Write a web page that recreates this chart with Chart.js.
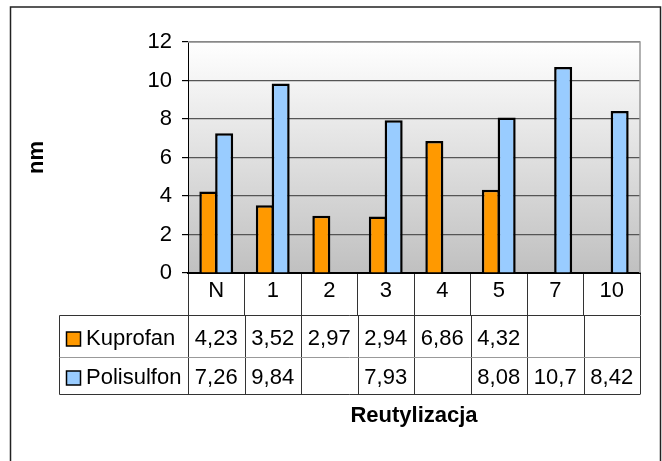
<!DOCTYPE html>
<html>
<head>
<meta charset="utf-8">
<script src="https://cdn.jsdelivr.net/npm/chart.js@4.4.0/dist/chart.umd.min.js"></script>
<style>
  body { margin: 0; background: #fff; }
  canvas { display: block; }
</style>
</head>
<body>
<canvas id="myChart" width="662" height="461"></canvas>
<script>
const categories = ['N', '1', '2', '3', '4', '5', '7', '10']
const kuprofan = [4.23, 3.52, 2.97, 2.94, 6.86, 4.32, null, null]
const polisulfon = [7.26, 9.84, null, 7.93, null, 8.08, 10.7, 8.42]
const seriesNames = ['Kuprofan', 'Polisulfon']
const seriesColors = ['#ff9900', '#99ccff']

const FONT = "'Liberation Sans', Arial, sans-serif"
const HEADER_ROW = 42

// white page, outer frame and the grey gradient behind the bars
const backdrop = {
  id: 'backdrop',
  beforeDraw(chart) {
    const { ctx, chartArea: a } = chart
    ctx.save()
    ctx.fillStyle = '#fff'
    ctx.fillRect(0, 0, chart.width, chart.height)
    ctx.strokeStyle = '#222'
    ctx.lineWidth = 1.5
    ctx.strokeRect(10.5, 7, 650, 470)
    const g = ctx.createLinearGradient(0, a.top, 0, a.bottom)
    g.addColorStop(0, '#ffffff')
    g.addColorStop(1, '#c0c0c0')
    ctx.fillStyle = g
    ctx.fillRect(a.left, a.top, a.right - a.left, a.bottom - a.top)
    ctx.restore()
  },
  beforeDatasetsDraw(chart) {
    const { ctx, chartArea: a } = chart
    ctx.save()
    ctx.strokeStyle = '#999'
    ctx.lineWidth = 1.5
    ctx.beginPath()
    ctx.moveTo(a.left, a.top)
    ctx.lineTo(a.right, a.top)
    ctx.lineTo(a.right, a.bottom)
    ctx.stroke()
    ctx.restore()
  }
}

// data table under the x axis (legend keys + values)
const dataTable = {
  id: 'dataTable',
  afterDraw(chart) {
    const { ctx, chartArea: a, scales: { x } } = chart
    const half = (x.getPixelForValue(1) - x.getPixelForValue(0)) / 2
    const left = 59.5
    const top = Math.round(a.bottom + HEADER_ROW) + 0.5
    const mid = 357.5
    const bottom = 394.5
    ctx.save()
    ctx.lineWidth = 1
    ctx.strokeStyle = '#333'
    ctx.beginPath()
    ctx.moveTo(left, top); ctx.lineTo(a.right, top)
    ctx.moveTo(left, bottom); ctx.lineTo(a.right, bottom)
    ctx.moveTo(left, top); ctx.lineTo(left, bottom)
    for (let i = 0; i <= categories.length; i++) {
      const px = Math.round(x.getPixelForValue(i) - half) + 0.5
      ctx.moveTo(px, top); ctx.lineTo(px, bottom)
    }
    ctx.stroke()
    ctx.strokeStyle = '#999'
    ctx.beginPath()
    ctx.moveTo(left, mid); ctx.lineTo(a.right, mid)
    ctx.stroke()

    const rows = [kuprofan, polisulfon]
    const baselines = [345, 384]
    ctx.font = '22px ' + FONT
    ctx.textBaseline = 'alphabetic'
    rows.forEach((vals, r) => {
      const by = baselines[r]
      ctx.fillStyle = seriesColors[r]
      ctx.fillRect(66.5, by - 13, 14, 14)
      ctx.strokeStyle = '#000'
      ctx.lineWidth = 1.5
      ctx.strokeRect(66.5, by - 13, 14, 14)
      ctx.fillStyle = '#000'
      ctx.textAlign = 'left'
      ctx.fillText(seriesNames[r], 86, by)
      ctx.textAlign = 'center'
      vals.forEach((v, i) => {
        if (v === null) return
        ctx.fillText(String(v).replace('.', ','), x.getPixelForValue(i), by)
      })
    })
    ctx.restore()
  }
}

const ctx = document.getElementById('myChart')
new Chart(ctx, {
  type: 'bar',
  data: {
    labels: categories,
    datasets: [
      {
        label: seriesNames[0],
        data: kuprofan,
        backgroundColor: seriesColors[0],
        borderColor: '#000',
        borderWidth: 2.5
      },
      {
        label: seriesNames[1],
        data: polisulfon,
        backgroundColor: seriesColors[1],
        borderColor: '#000',
        borderWidth: 2.5
      }
    ]
  },
  options: {
    responsive: false,
    animation: false,
    devicePixelRatio: 1,
    categoryPercentage: 0.56,
    barPercentage: 1.14,
    layout: { padding: { top: 42, right: 22, bottom: 0, left: 0 } },
    plugins: {
      legend: { display: false },
      tooltip: { enabled: false }
    },
    scales: {
      x: {
        afterFit(scale) { scale.height = 188 },
        grid: {
          display: true,
          drawOnChartArea: false,
          offset: true,
          tickLength: HEADER_ROW,
          tickColor: '#333',
          lineWidth: 1
        },
        border: { color: '#000', width: 2 },
        ticks: {
          color: '#000',
          padding: -37,
          maxRotation: 0,
          font: { family: FONT, size: 22 }
        },
        title: {
          display: true,
          text: 'Reutylizacja',
          color: '#000',
          padding: { top: 0, bottom: 32 },
          font: { family: FONT, size: 22, weight: 'bold' }
        }
      },
      y: {
        min: 0,
        max: 12,
        afterFit(scale) { scale.width = 188 },
        grid: {
          color: '#555',
          lineWidth: 1.2,
          tickLength: 6,
          tickColor: '#000'
        },
        border: { color: '#000', width: 1 },
        ticks: {
          stepSize: 2,
          color: '#000',
          padding: 10,
          font: { family: FONT, size: 22 }
        },
        title: {
          display: true,
          text: 'nm',
          color: '#000',
          padding: { top: 24, bottom: 0 },
          font: { family: FONT, size: 22, weight: 'bold' }
        }
      }
    }
  },
  plugins: [backdrop, dataTable]
})
</script>
</body>
</html>
